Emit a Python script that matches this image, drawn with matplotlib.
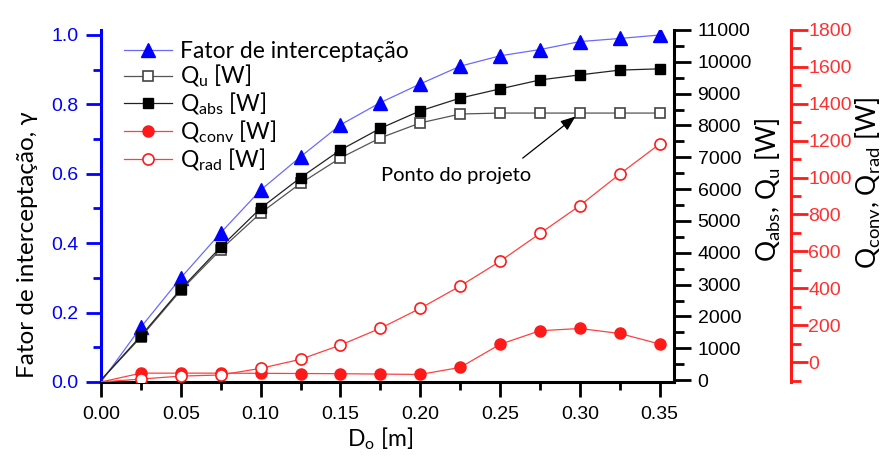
import numpy as np
import matplotlib
matplotlib.use("Agg")
import matplotlib.pyplot as plt
from matplotlib.ticker import MultipleLocator

# data
D_o = [0.0, 0.025, 0.05, 0.075, 0.10, 0.125, 0.15, 0.175, 0.20, 0.225, 0.25, 0.275, 0.30, 0.325, 0.35]
fator = [0.0, 0.158, 0.30, 0.43, 0.553, 0.649, 0.741, 0.805, 0.859, 0.91, 0.94, 0.958, 0.981, 0.99, 1.0]
Q_u = [0, 1350, 2820, 4100, 5250, 6180, 6980, 7610, 8080, 8360, 8390, 8390, 8390, 8390, 8390]
Q_abs = [0, 1390, 2860, 4180, 5400, 6360, 7230, 7910, 8460, 8860, 9150, 9430, 9590, 9740, 9780]
Q_conv = [-108, -60, -60, -60, -61, -62, -63, -65, -67, -29, 96, 170, 182, 155, 98]
Q_rad = [-108, -92, -76, -70, -34, 15, 92, 183, 291, 412, 546, 697, 848, 1019, 1182]
i_proj = 12  # Ponto do projeto (D_o = 0.30)

txt_font = "Lato"
tick_font = "Liberation Sans"
blue = "#0000ff"
red = "#ff1a1a"

fig = plt.figure(figsize=(8.82, 4.63), dpi=100)
ax = fig.add_axes([101/882, 1 - 382/463, 573/882, 352/463])
ax2 = ax.twinx()
ax3 = ax.twinx()

mk = dict(markevery=slice(1, None), lw=0.9)
l1, = ax.plot(D_o, fator, color="#6a6aff", marker="^", ms=9.5, mfc=blue, mec=blue,
              label="Fator de interceptação", **mk)
l2, = ax2.plot(D_o, Q_u, color="#555555", marker="s", ms=7, mfc="white", mec="#444444",
               mew=1.2, label="Q$_\\mathregular{u}$ [W]", **mk)
l3, = ax2.plot(D_o, Q_abs, color="#222222", marker="s", ms=7, mfc="black", mec="black",
               label="Q$_\\mathregular{abs}$ [W]", **mk)
l4, = ax3.plot(D_o, Q_conv, color="#ff4040", marker="o", ms=8, mfc=red, mec=red,
               label="Q$_\\mathregular{conv}$ [W]", **mk)
l5, = ax3.plot(D_o, Q_rad, color="#ff4040", marker="o", ms=8, mfc="white", mec=red,
               mew=1.2, label="Q$_\\mathregular{rad}$ [W]", **mk)

ax.set_xlim(0, 0.359)
ax.set_ylim(0, 1.0144)
ax2.set_ylim(-60, 11000)
ax3.set_ylim(-108, 1800)

# spines
for a in (ax, ax2, ax3):
    a.spines["top"].set_visible(False)
ax.spines["right"].set_visible(False)
ax.spines["left"].set_color(blue)
ax.spines["left"].set_linewidth(2.2)
ax.spines["bottom"].set_linewidth(2.2)
ax2.spines["left"].set_visible(False)
ax2.spines["bottom"].set_visible(False)
ax2.spines["right"].set_linewidth(2.2)
ax3.spines["left"].set_visible(False)
ax3.spines["bottom"].set_visible(False)
ax3.spines["right"].set_position(("axes", 1.204))
ax3.spines["right"].set_color(red)
ax3.spines["right"].set_linewidth(2.2)

# ticks
ax.xaxis.set_major_locator(MultipleLocator(0.05))
ax.xaxis.set_minor_locator(MultipleLocator(0.025))
ax.yaxis.set_major_locator(MultipleLocator(0.2))
ax.yaxis.set_minor_locator(MultipleLocator(0.1))
ax2.yaxis.set_major_locator(MultipleLocator(1000))
ax2.yaxis.set_minor_locator(MultipleLocator(500))
ax3.yaxis.set_major_locator(MultipleLocator(200))
ax3.yaxis.set_minor_locator(MultipleLocator(100))
ax3.set_yticks(np.arange(0, 1801, 200))

tsize = 14
ax.tick_params(axis="x", which="major", direction="out", length=11, width=2, pad=6, labelsize=tsize)
ax.tick_params(axis="x", which="minor", direction="out", length=6, width=2)
ax.tick_params(axis="y", which="major", direction="out", length=11, width=2, pad=5,
               labelsize=tsize, color=blue, labelcolor=blue)
ax.tick_params(axis="y", which="minor", direction="out", length=6, width=2, color=blue)
ax2.tick_params(axis="y", which="major", direction="out", length=12, width=2, pad=5, labelsize=tsize)
ax2.tick_params(axis="y", which="minor", direction="out", length=7, width=2)
ax3.tick_params(axis="y", which="major", direction="out", length=12, width=2, pad=0.5,
                labelsize=tsize, color=red, labelcolor="#ff3030")
ax3.tick_params(axis="y", which="minor", direction="out", length=7, width=2, color=red)
ax.set_xticklabels([f"{v:.2f}" for v in ax.get_xticks()])
ax.set_yticklabels([f"{v:.1f}" for v in ax.get_yticks()])
for a in (ax, ax2, ax3):
    for t in a.get_xticklabels() + a.get_yticklabels():
        t.set_fontfamily(tick_font)

# axis labels
ax.set_xlabel("D$_\\mathregular{o}$ [m]", fontsize=16.5, family=txt_font)
ax.xaxis.set_label_coords(0.487, -0.122)
ax.set_ylabel("Fator de interceptação, γ", fontsize=17.5, family=txt_font)
ax.yaxis.set_label_coords(-0.11, 0.39)
ax2.set_ylabel("Q$_\\mathregular{abs}$, Q$_\\mathregular{u}$ [W]", fontsize=19, family=txt_font)
ax2.yaxis.set_label_coords(1.138, 0.545)
ax3.set_ylabel("Q$_\\mathregular{conv}$, Q$_\\mathregular{rad}$ [W]", fontsize=19, family=txt_font)
ax3.yaxis.set_label_coords(1.313, 0.565)

# annotation
ax3.text(0.489, 0.588, "Ponto do projeto", transform=ax.transAxes, fontsize=14.5,
         family=txt_font, ha="left", va="center")
ax2.annotate("", xy=(D_o[i_proj], Q_u[i_proj]), xycoords="data",
             xytext=(0.736, 0.636), textcoords=ax.transAxes,
             arrowprops=dict(arrowstyle="-|>,head_length=0.9,head_width=0.35",
                             color="black", lw=0.9, shrinkA=0, shrinkB=4))

leg = ax3.legend(handles=[l1, l2, l3, l4, l5], loc="upper left", bbox_to_anchor=(0.012, 1.015),
                 frameon=False, prop={"family": txt_font, "size": 16.5},
                 handlelength=2.1, handletextpad=0.35, labelspacing=0.04, borderpad=0.2)

fig.savefig("out.png", dpi=100)
